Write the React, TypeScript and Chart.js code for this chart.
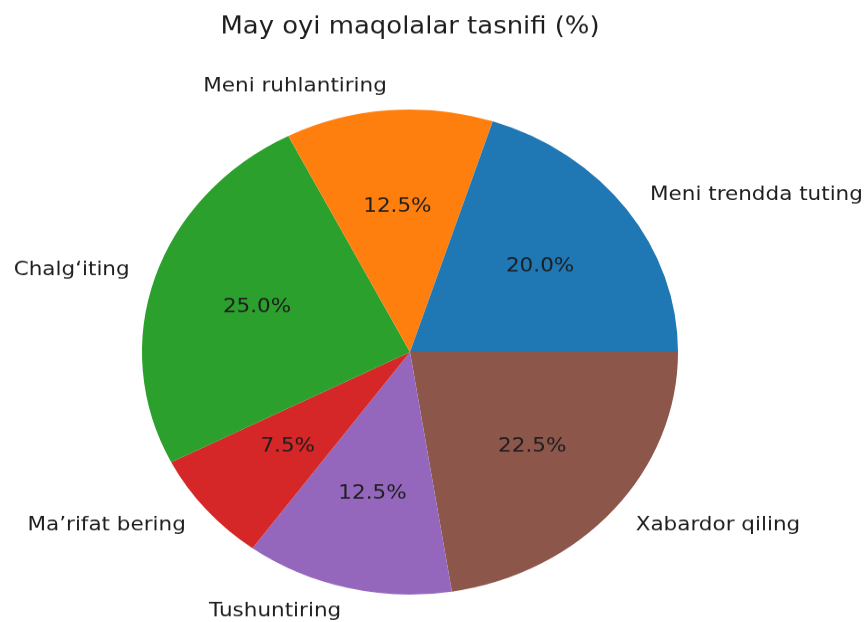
import React, { useEffect, useRef } from "react";
import { Chart, registerables } from "chart.js";

Chart.register(...registerables);

const chartTitle = "May oyi maqolalar tasnifi (%)";
const categories = [
  "Meni trendda tuting",
  "Meni ruhlantiring",
  "Chalg\u2018iting",
  "Ma\u2019rifat bering",
  "Tushuntiring",
  "Xabardor qiling",
];
const shares = [20.0, 12.5, 25.0, 7.5, 12.5, 22.5];
const sliceColors = ["#1f77b4", "#ff7f0e", "#2ca02c", "#d62728", "#9467bd", "#8c564b"];

const W = 867;
const H = 622;
const SY = 0.905; // vertical squash of the reference
const HU = Math.round(H / SY);
const LABEL_SIZE = 21.5;
const TITLE_SIZE = 25.9;
const FONT = '"DejaVu Sans", sans-serif';
const TEXT_COLOR = "#1e1e1e";

const pieTextPlugin = {
  id: "pieText",
  afterDatasetsDraw(chart: any) {
    const ctx = chart.ctx as CanvasRenderingContext2D;
    const meta = chart.getDatasetMeta(0);
    const labels = chart.data.labels as string[];
    const values = chart.data.datasets[0].data as number[];
    ctx.save();
    ctx.fillStyle = TEXT_COLOR;
    ctx.textBaseline = "alphabetic";
    meta.data.forEach((arc: any, i: number) => {
      const p = arc.getProps(["x", "y", "startAngle", "endAngle", "outerRadius"], true);
      const mid = (p.startAngle + p.endAngle) / 2;
      const c = Math.cos(mid);
      const s = Math.sin(mid);
      ctx.font = `${LABEL_SIZE}px ${FONT}`;
      ctx.textAlign = c > 0 ? "left" : "right";
      ctx.fillText(
        labels[i],
        p.x + 1.1 * p.outerRadius * c + (c > 0 ? 1.5 : 0),
        p.y + 1.1 * p.outerRadius * s + 0.262 * LABEL_SIZE
      );
      ctx.textAlign = "center";
      ctx.fillText(
        `${values[i].toFixed(1)}%`,
        p.x + 0.6 * p.outerRadius * c,
        p.y + 0.6 * p.outerRadius * s + 0.262 * LABEL_SIZE
      );
    });
    const cx = meta.data.length ? meta.data[0].x : W / 2;
    ctx.font = `${TITLE_SIZE}px ${FONT}`;
    ctx.textAlign = "center";
    ctx.fillText(chartTitle, cx, 36.5);
    ctx.restore();
  },
};

export default function App() {
  const canvasRef = useRef<HTMLCanvasElement | null>(null);

  useEffect(() => {
    if (!canvasRef.current) return;
    const order = categories.map((_, i) => i).reverse();
    const chart = new Chart(canvasRef.current, {
      type: "pie",
      data: {
        labels: order.map((i) => categories[i]),
        datasets: [
          {
            data: order.map((i) => shares[i]),
            backgroundColor: order.map((i) => sliceColors[i]),
            borderWidth: 0,
            hoverOffset: 0,
          } as any,
        ],
      },
      options: {
        responsive: false,
        animation: false,
        rotation: 90,
        layout: { padding: { left: 142, right: 189, top: 121, bottom: HU - 121 - 536 } },
        plugins: {
          legend: { display: false },
          tooltip: { enabled: false },
          title: { display: false },
        },
        events: [],
      },
      plugins: [pieTextPlugin],
    });
    return () => chart.destroy();
  }, []);

  return (
    <div
      style={{
        position: "fixed",
        left: 0,
        top: 0,
        width: W,
        height: H,
        overflow: "hidden",
        background: "#ffffff",
      }}
    >
      <div
        style={{
          width: W,
          height: HU,
          transform: `scaleY(${SY})`,
          transformOrigin: "0 0",
        }}
      >
        <canvas ref={canvasRef} width={W} height={HU} style={{ display: "block" }} />
      </div>
    </div>
  );
}
